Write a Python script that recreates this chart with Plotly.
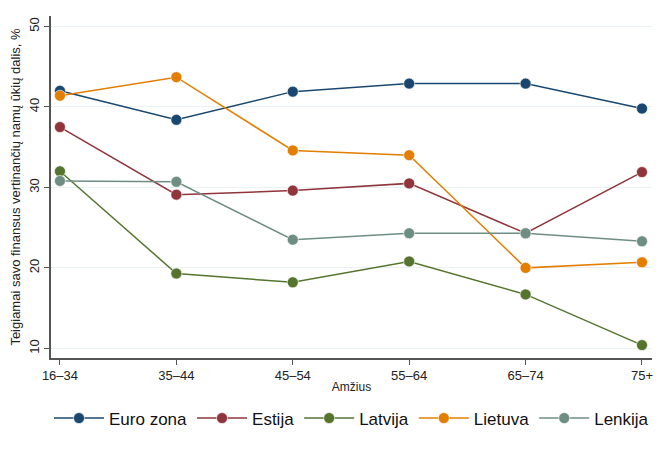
import plotly.graph_objects as go

ages = ["16–34", "35–44", "45–54", "55–64", "65–74", "75+"]
euro_zona = [42.0, 38.4, 41.9, 42.9, 42.9, 39.8]
estija = [37.5, 29.1, 29.6, 30.5, 24.3, 31.9]
latvija = [32.0, 19.3, 18.2, 20.8, 16.7, 10.4]
lietuva = [41.4, 43.7, 34.6, 34.0, 20.0, 20.7]
lenkija = [30.8, 30.7, 23.5, 24.3, 24.3, 23.3]

series = [
    ("Euro zona", euro_zona, "#1a476f"),
    ("Estija", estija, "#90353b"),
    ("Latvija", latvija, "#55752f"),
    ("Lietuva", lietuva, "#e37e00"),
    ("Lenkija", lenkija, "#6e8e84"),
]

fig = go.Figure()
for name, vals, col in series:
    fig.add_trace(go.Scatter(
        x=ages, y=vals, name=name, mode="lines+markers",
        line=dict(color=col, width=1.5),
        marker=dict(color=col, size=11, line=dict(color="rgba(255,255,255,0.6)", width=1)),
    ))

font = "Liberation Sans, Arial, sans-serif"
fig.update_layout(
    width=662, height=446,
    margin=dict(l=43, r=18, t=8, b=96),
    paper_bgcolor="white", plot_bgcolor="white",
    font=dict(family=font, size=13, color="#222"),
    showlegend=True,
    legend=dict(orientation="h", x=0.5, xanchor="center", y=-0.177, yanchor="middle",
                font=dict(size=17, color="#111"), itemwidth=50, tracegroupgap=0),
    xaxis=dict(
        type="category", range=[-0.077, 5.086], automargin=False,
        showgrid=False, showline=True, linecolor="#555", linewidth=1.5,
        ticks="outside", ticklen=5, tickcolor="#555",
        tickfont=dict(size=13, color="#222"),
        title=dict(text="Amžius", font=dict(size=12, color="#222"), standoff=0),
    ),
    yaxis=dict(
        range=[8.8, 51.3], tickvals=[10, 20, 30, 40, 50], automargin=False,
        showgrid=True, gridcolor="#eaf1f2", gridwidth=1, zeroline=False,
        showline=True, linecolor="#555", linewidth=1.5,
        ticks="outside", ticklen=5, tickcolor="#555", tickangle=-90,
        tickfont=dict(size=13, color="#222"),
        title=dict(text="Teigiamai savo finansus vertinančių namų ūkių dalis, %",
                   font=dict(size=13, color="#222"), standoff=7),
    ),
)

fig.write_html("out.html")
